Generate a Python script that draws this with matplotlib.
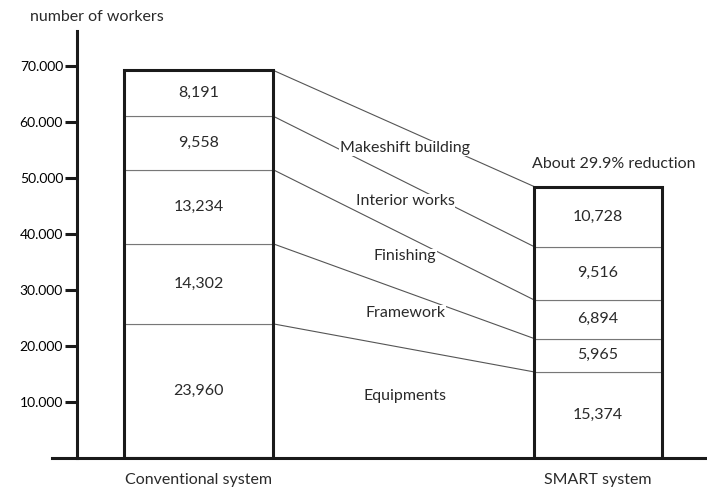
import numpy as np
import matplotlib
matplotlib.use("Agg")
import matplotlib.pyplot as plt

plt.rcParams['font.family'] = ['Lato', 'DejaVu Sans']

# data (bottom to top)
categories = ['Equipments', 'Framework', 'Finishing', 'Interior works', 'Makeshift building']
conventional = [23960, 14302, 13234, 9558, 8191]
smart = [15374, 5965, 6894, 9516, 10728]
systems = ['Conventional system', 'SMART system']
yticks = [10000, 20000, 30000, 40000, 50000, 60000, 70000]
ytick_labels = ['10.000', '20.000', '30.000', '40.000', '50.000', '60.000', '70.000']

txt = '#2a2a2a'
fs = 11.5
fig = plt.figure(figsize=(7.07, 4.93), dpi=100)
ax = fig.add_axes([52 / 707, 35 / 493, 655 / 707, 427 / 493])

pos = [0, 1]
widths = [0.373, 0.320]
series = [conventional, smart]

for p, w, vals in zip(pos, widths, series):
    bottoms = np.concatenate([[0], np.cumsum(vals)[:-1]])
    ax.bar(p, vals, width=w, bottom=bottoms, color='white', edgecolor='#777777', linewidth=0.8, zorder=2)
    ax.bar(p, sum(vals), width=w, fill=False, edgecolor='#1a1a1a', linewidth=2.2, zorder=3)
    for b, v in zip(bottoms, vals):
        ax.text(p, b + v / 2, f'{v:,}', ha='center', va='center', fontsize=fs, color=txt, zorder=4)

# connecting lines between the segment tops
c_top = np.cumsum(conventional)
s_top = np.cumsum(smart)
x0 = pos[0] + widths[0] / 2
x1 = pos[1] - widths[1] / 2
for a, b in zip(c_top, s_top):
    ax.plot([x0, x1], [a, b], color='#555555', linewidth=0.8, zorder=1)

# category labels in between
c_mid = c_top - np.array(conventional) / 2
s_mid = s_top - np.array(smart) / 2
for name, a, b in zip(categories, c_mid, s_mid):
    ax.text(0.517, (a + b) / 2 + 1200, name, ha='center', va='center', fontsize=fs, color=txt,
            zorder=2, bbox=dict(facecolor='white', edgecolor='none', pad=0.5))

ax.text(x1 - 0.005, s_top[-1] + 4000, 'About 29.9% reduction', ha='left', va='center',
        fontsize=fs, color=txt)

ax.set_xlim(-0.3667, 1.2729)
ax.set_ylim(0, 76250)
ax.set_yticks(yticks)
ax.set_yticklabels(ytick_labels, color=txt, fontsize=fs)
ax.set_xticks(pos)
ax.set_xticklabels(systems, color=txt, fontsize=fs)
ax.tick_params(axis='x', length=0, pad=11)
ax.tick_params(axis='y', length=9, width=2.2, pad=1, color='#1a1a1a')

for s in ['top', 'right']:
    ax.spines[s].set_visible(False)
ax.spines['left'].set_position(('axes', 25 / 655))
ax.spines['left'].set_linewidth(2.2)
ax.spines['bottom'].set_linewidth(2.2)
ax.spines['left'].set_color('#1a1a1a')
ax.spines['bottom'].set_color('#1a1a1a')

fig.text(30 / 707, 1 - 17 / 493, 'number of workers', ha='left', va='center', fontsize=fs, color=txt)

fig.savefig('out.png', dpi=100)
